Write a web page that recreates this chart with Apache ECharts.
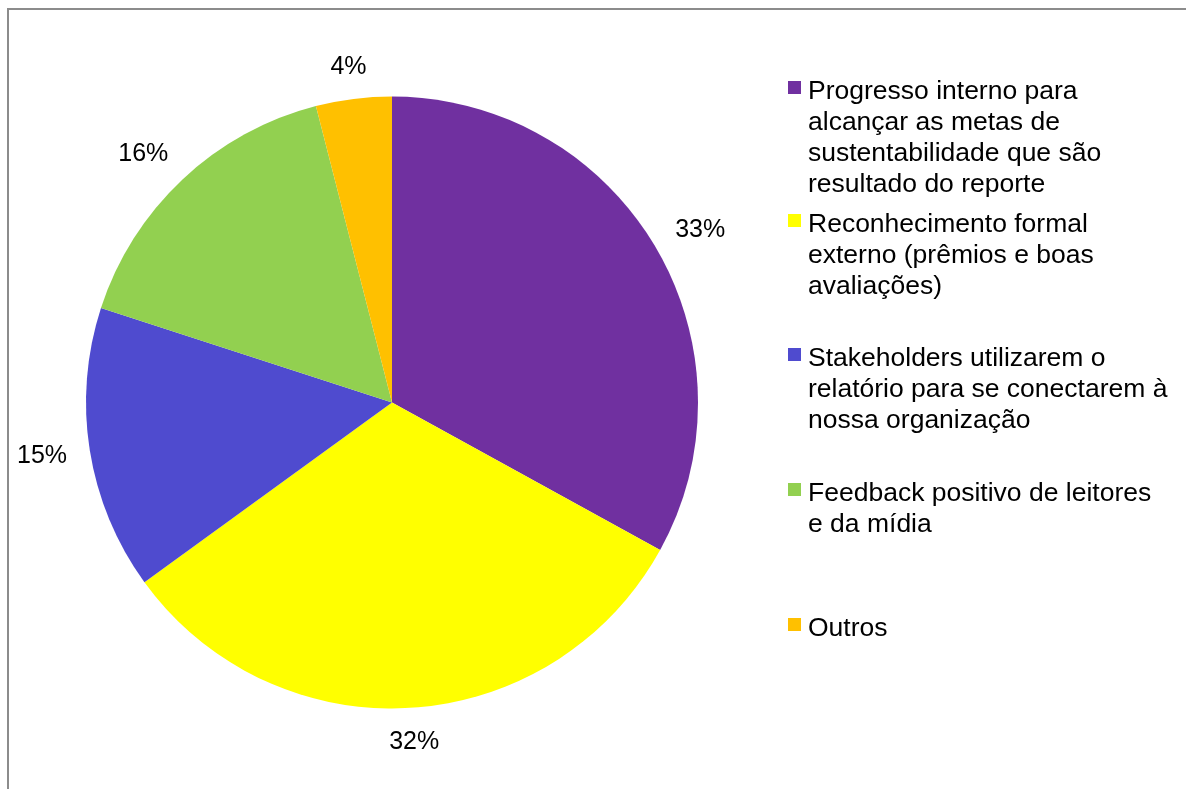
<!DOCTYPE html>
<html>
<head>
<meta charset="utf-8">
<style>
  html, body { margin: 0; padding: 0; background: #ffffff; }
  #chart { width: 1186px; height: 789px; }
</style>
<script src="https://cdn.jsdelivr.net/npm/echarts@6/dist/echarts.min.js"></script>
</head>
<body>
<div id="chart"></div>
<script>
// Motivations for sustainability reporting (share of answers, %)
const categories = [
  'Progresso interno para\nalcançar as metas de\nsustentabilidade que são\nresultado do reporte',
  'Reconhecimento formal\nexterno (prêmios e boas\navaliações)',
  'Stakeholders utilizarem o\nrelatório para se conectarem à\nnossa organização',
  'Feedback positivo de leitores\ne da mídia',
  'Outros'
];
const values = [33, 32, 15, 16, 4];
const colors = ['#7030A0', '#FFFF00', '#4F4BCF', '#92D050', '#FFC000'];

const FONT = '"Liberation Sans", Arial, sans-serif';
const LABEL_SIZE = 25;
const center = [392, 402.5];
const LABEL_GAP = 23; // distance from the rim to the point the label box touches

const data = categories.map((name, i) => ({ name, value: values[i], itemStyle: { color: colors[i] } }));

// Legend block: marker square + wrapped text, first-line centres
const legendTops = [90, 223, 357, 492, 627];
const graphics = [];
categories.forEach((name, i) => {
  const y = legendTops[i];
  graphics.push({
    type: 'rect',
    shape: { x: 788, y: y - 9, width: 13, height: 13 },
    style: { fill: colors[i] },
    silent: true
  });
  graphics.push({
    type: 'text',
    x: 808,
    y: y - 13.5,
    style: {
      text: name,
      font: '26.5px ' + FONT,
      fill: '#000000',
      lineHeight: 31,
      verticalAlign: 'top'
    },
    silent: true
  });
});

// Chart area frame (top and left edges)
graphics.push({
  type: 'polyline',
  shape: { points: [[8, 789], [8, 9], [1186, 9]] },
  style: { stroke: '#8C8C8C', lineWidth: 2, fill: null },
  silent: true
});

const chart = echarts.init(document.getElementById('chart'), null, { renderer: 'canvas' });

// Percentage labels sit outside their slice: the point just beyond the rim on
// the mid-angle ray is mapped onto the label box's outline (side or corner),
// so the box hangs outward from that point.
function placeLabel(params) {
  const layout = chart.getModel().getSeriesByIndex(0).getData().getItemLayout(params.dataIndex);
  const mid = (layout.startAngle + layout.endAngle) / 2;
  const ux = Math.cos(mid), uy = Math.sin(mid);
  const m = Math.max(Math.abs(ux), Math.abs(uy));
  const w = params.labelRect.width;
  const h = LABEL_SIZE * 0.8;
  const R = layout.r + LABEL_GAP;
  return {
    x: layout.cx + ux * R + (ux / m) * w / 2,
    y: layout.cy + uy * R + (uy / m) * h / 2 + 1,
    align: 'center',
    verticalAlign: 'middle'
  };
}

chart.setOption({
  animation: false,
  backgroundColor: '#ffffff',
  series: [
    {
      type: 'pie',
      center: center,
      radius: [0, 306],
      startAngle: 90,
      clockwise: true,
      data: data,
      label: {
        show: true,
        position: 'outside',
        formatter: '{c}%',
        fontFamily: FONT,
        fontSize: LABEL_SIZE,
        color: '#000000',
        overflow: 'none'
      },
      labelLine: { show: false },
      labelLayout: placeLabel,
      itemStyle: { borderWidth: 0 },
      emphasis: { disabled: true },
      silent: true
    }
  ],
  graphic: graphics
});
</script>
</body>
</html>
